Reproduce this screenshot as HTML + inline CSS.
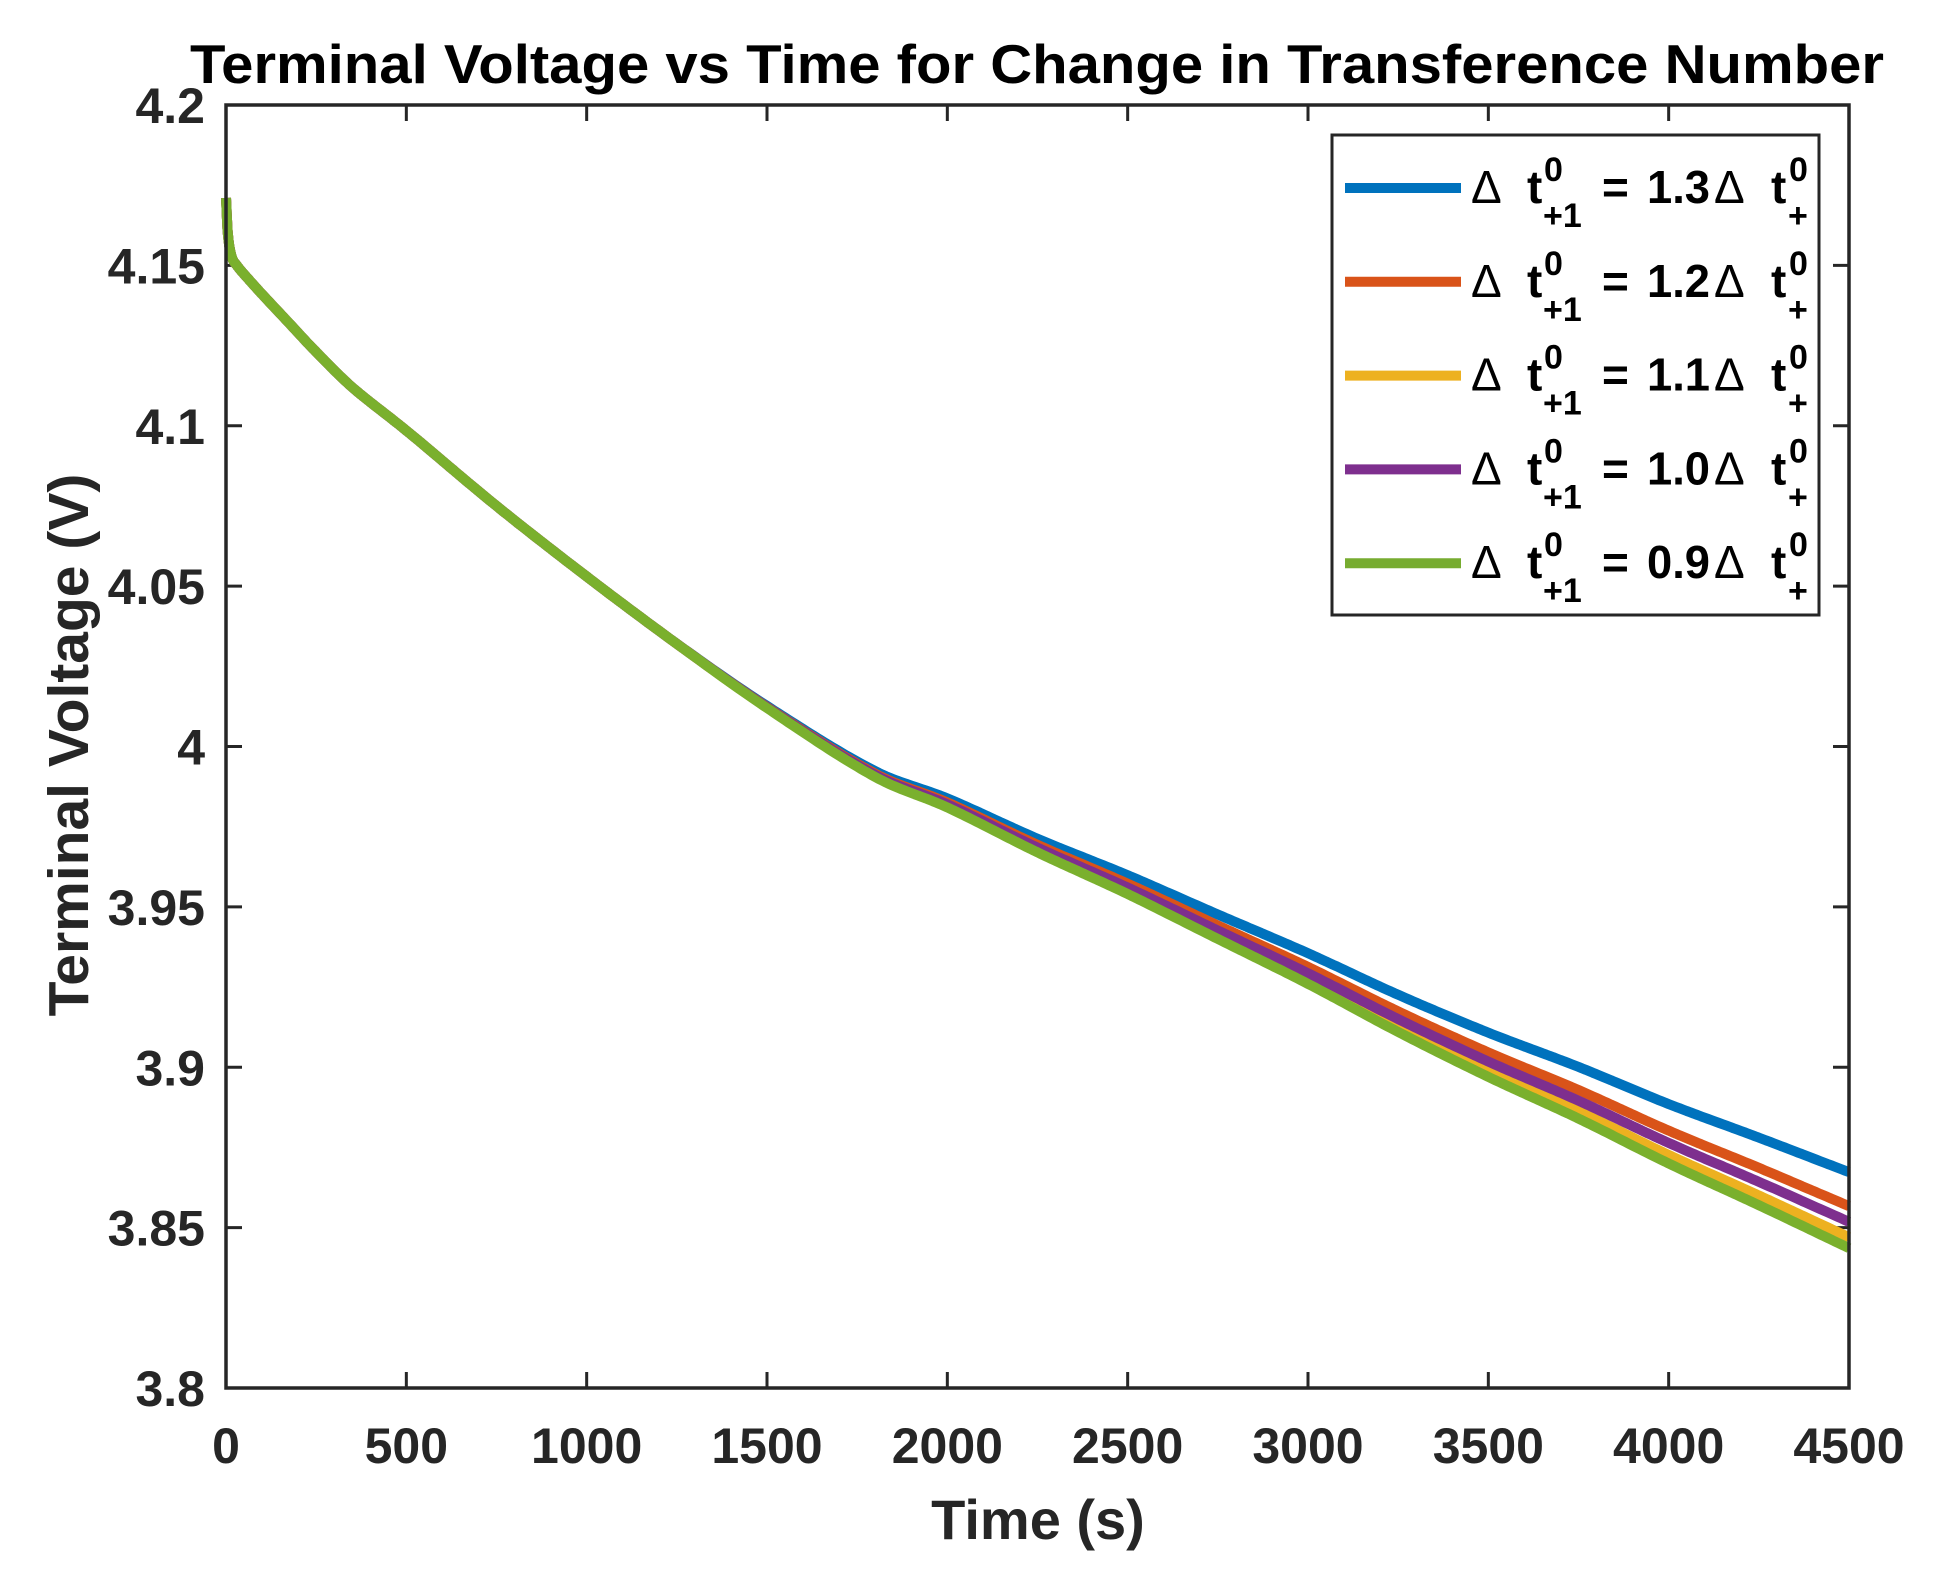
<!DOCTYPE html>
<html><head><meta charset="utf-8"><style>html,body{margin:0;padding:0;background:#fff}svg{display:block}</style></head>
<body>
<svg id="s" width="1947" height="1573" viewBox="0 0 1947 1573" xmlns="http://www.w3.org/2000/svg" font-family="Liberation Sans, Arial, sans-serif">
<rect width="1947" height="1573" fill="#fff"/>
<text x="190" y="83" font-size="55" font-weight="bold" fill="#000" textLength="1694" lengthAdjust="spacingAndGlyphs">Terminal Voltage vs Time for Change in Transference Number</text>
<g id="ticks" stroke="#262626" stroke-width="3"></g>
<g id="curves" fill="none" stroke-width="10" stroke-linejoin="round" stroke-linecap="butt"></g>
<rect x="226" y="105" width="1623" height="1283" fill="none" stroke="#262626" stroke-width="3.5"/>
<g id="labels" font-size="50" font-weight="bold" fill="#262626"></g>
<text x="1038" y="1539" font-size="56" font-weight="bold" fill="#262626" text-anchor="middle">Time (s)</text>
<text transform="translate(88,745) rotate(-90)" font-size="57" font-weight="bold" fill="#262626" text-anchor="middle">Terminal Voltage (V)</text>
<rect x="1332" y="135" width="487" height="480" fill="#fff" stroke="#262626" stroke-width="3"/>
<g id="legend" font-weight="bold" fill="#000"></g>
</svg>
<script>
var NS="http://www.w3.org/2000/svg";
function el(p,n,a,t){var e=document.createElementNS(NS,n);for(var k in a)e.setAttribute(k,a[k]);if(t!==undefined)e.textContent=t;document.getElementById(p).appendChild(e);return e;}
var L=226,R=1849,T=105,B=1388;
function X(t){return L+t*(R-L)/4500;}
function Y(v){return B-(v-3.8)*(B-T)/0.4;}
for(var i=0;i<=9;i++){var t=i*500,x=X(t);
 el("ticks","line",{x1:x,y1:B,x2:x,y2:B-16});el("ticks","line",{x1:x,y1:T,x2:x,y2:T+16});
 el("labels","text",{x:x,y:1463,"text-anchor":"middle"},String(t));}
for(var j=0;j<=8;j++){var v=3.8+j*0.05,y=Y(v);
 el("ticks","line",{x1:L,y1:y,x2:L+16,y2:y});el("ticks","line",{x1:R,y1:y,x2:R-16,y2:y});
 var s=(Math.round(v*100)/100).toString();
 el("labels","text",{x:205,y:y+18,"text-anchor":"end"},s);}
var K=[[0,4.171],[5,4.160],[15,4.153],[30,4.150],[60,4.146],[100,4.141],[175,4.132],[250,4.123],[350,4.112],[500,4.0985],[750,4.075],[1000,4.053],[1250,4.032],[1500,4.012],[1800,3.9905],[2000,3.981],[2250,3.967],[2500,3.954],[2750,3.940],[3000,3.926],[3250,3.911],[3500,3.897],[3750,3.884],[4000,3.870],[4250,3.857],[4500,3.8436]];
function base(t){for(var i=1;i<K.length;i++){if(t<=K[i][0]){
 var a=K[i-1],b=K[i],p=K[Math.max(i-2,0)],q=K[Math.min(i+1,K.length-1)];
 var h=b[0]-a[0],u=(t-a[0])/h;
 var m0=(b[1]-p[1])/(b[0]-p[0])*h, m1=(q[1]-a[1])/(q[0]-a[0])*h;
 if(i==1){m0=(b[1]-a[1]);} 
 var u2=u*u,u3=u2*u;
 return (2*u3-3*u2+1)*a[1]+(u3-2*u2+u)*m0+(-2*u3+3*u2)*b[1]+(u3-u2)*m1;}}return K[K.length-1][1];}
function f(t){if(t<=1200)return 0;var u=(t-1200)/3300;return Math.pow(u,1.5);}
var S=[["#7AB02D",0],["#7E2F8E",0.0082],["#EDB120",0.0034],["#D95319",0.0131],["#0072BD",0.0237]];
var ts=[];for(var t=0;t<=4500;t+=(t<100?1:(t<500?5:10)))ts.push(t);if(ts[ts.length-1]!=4500)ts.push(4500);
[4,3,2,1,0].forEach(function(k){var d="";ts.forEach(function(t,i){var v=base(t)+S[k][1]*f(t);d+=(i?"L":"M")+X(t).toFixed(1)+" "+Y(v).toFixed(1);});
 el("curves","path",{d:d,stroke:S[k][0]});});
var rows=[["#0072BD","1.3"],["#D95319","1.2"],["#EDB120","1.1"],["#7E2F8E","1.0"],["#77AC30","0.9"]];
rows.forEach(function(r,i){var cy=188+i*93.8;
 el("legend","line",{x1:1345,y1:cy,x2:1461,y2:cy,stroke:r[0],"stroke-width":10});
 el("legend","text",{x:1471,y:cy+15,"font-size":46,"font-weight":"normal"},"\u0394");
 el("legend","text",{x:1527,y:cy+15,"font-size":46},"t");
 el("legend","text",{x:1544,y:cy-7,"font-size":34},"0");
 el("legend","text",{x:1543,y:cy+39,"font-size":34},"+1");
 el("legend","text",{x:1602,y:cy+15,"font-size":46},"=");
 el("legend","text",{x:1647,y:cy+15,"font-size":46,textLength:63,lengthAdjust:"spacingAndGlyphs"},r[1]);
 el("legend","text",{x:1714,y:cy+15,"font-size":46,"font-weight":"normal"},"\u0394");
 el("legend","text",{x:1771,y:cy+15,"font-size":46},"t");
 el("legend","text",{x:1789,y:cy-7,"font-size":34},"0");
 el("legend","text",{x:1788,y:cy+39,"font-size":34},"+");
});
</script>
</body></html>
